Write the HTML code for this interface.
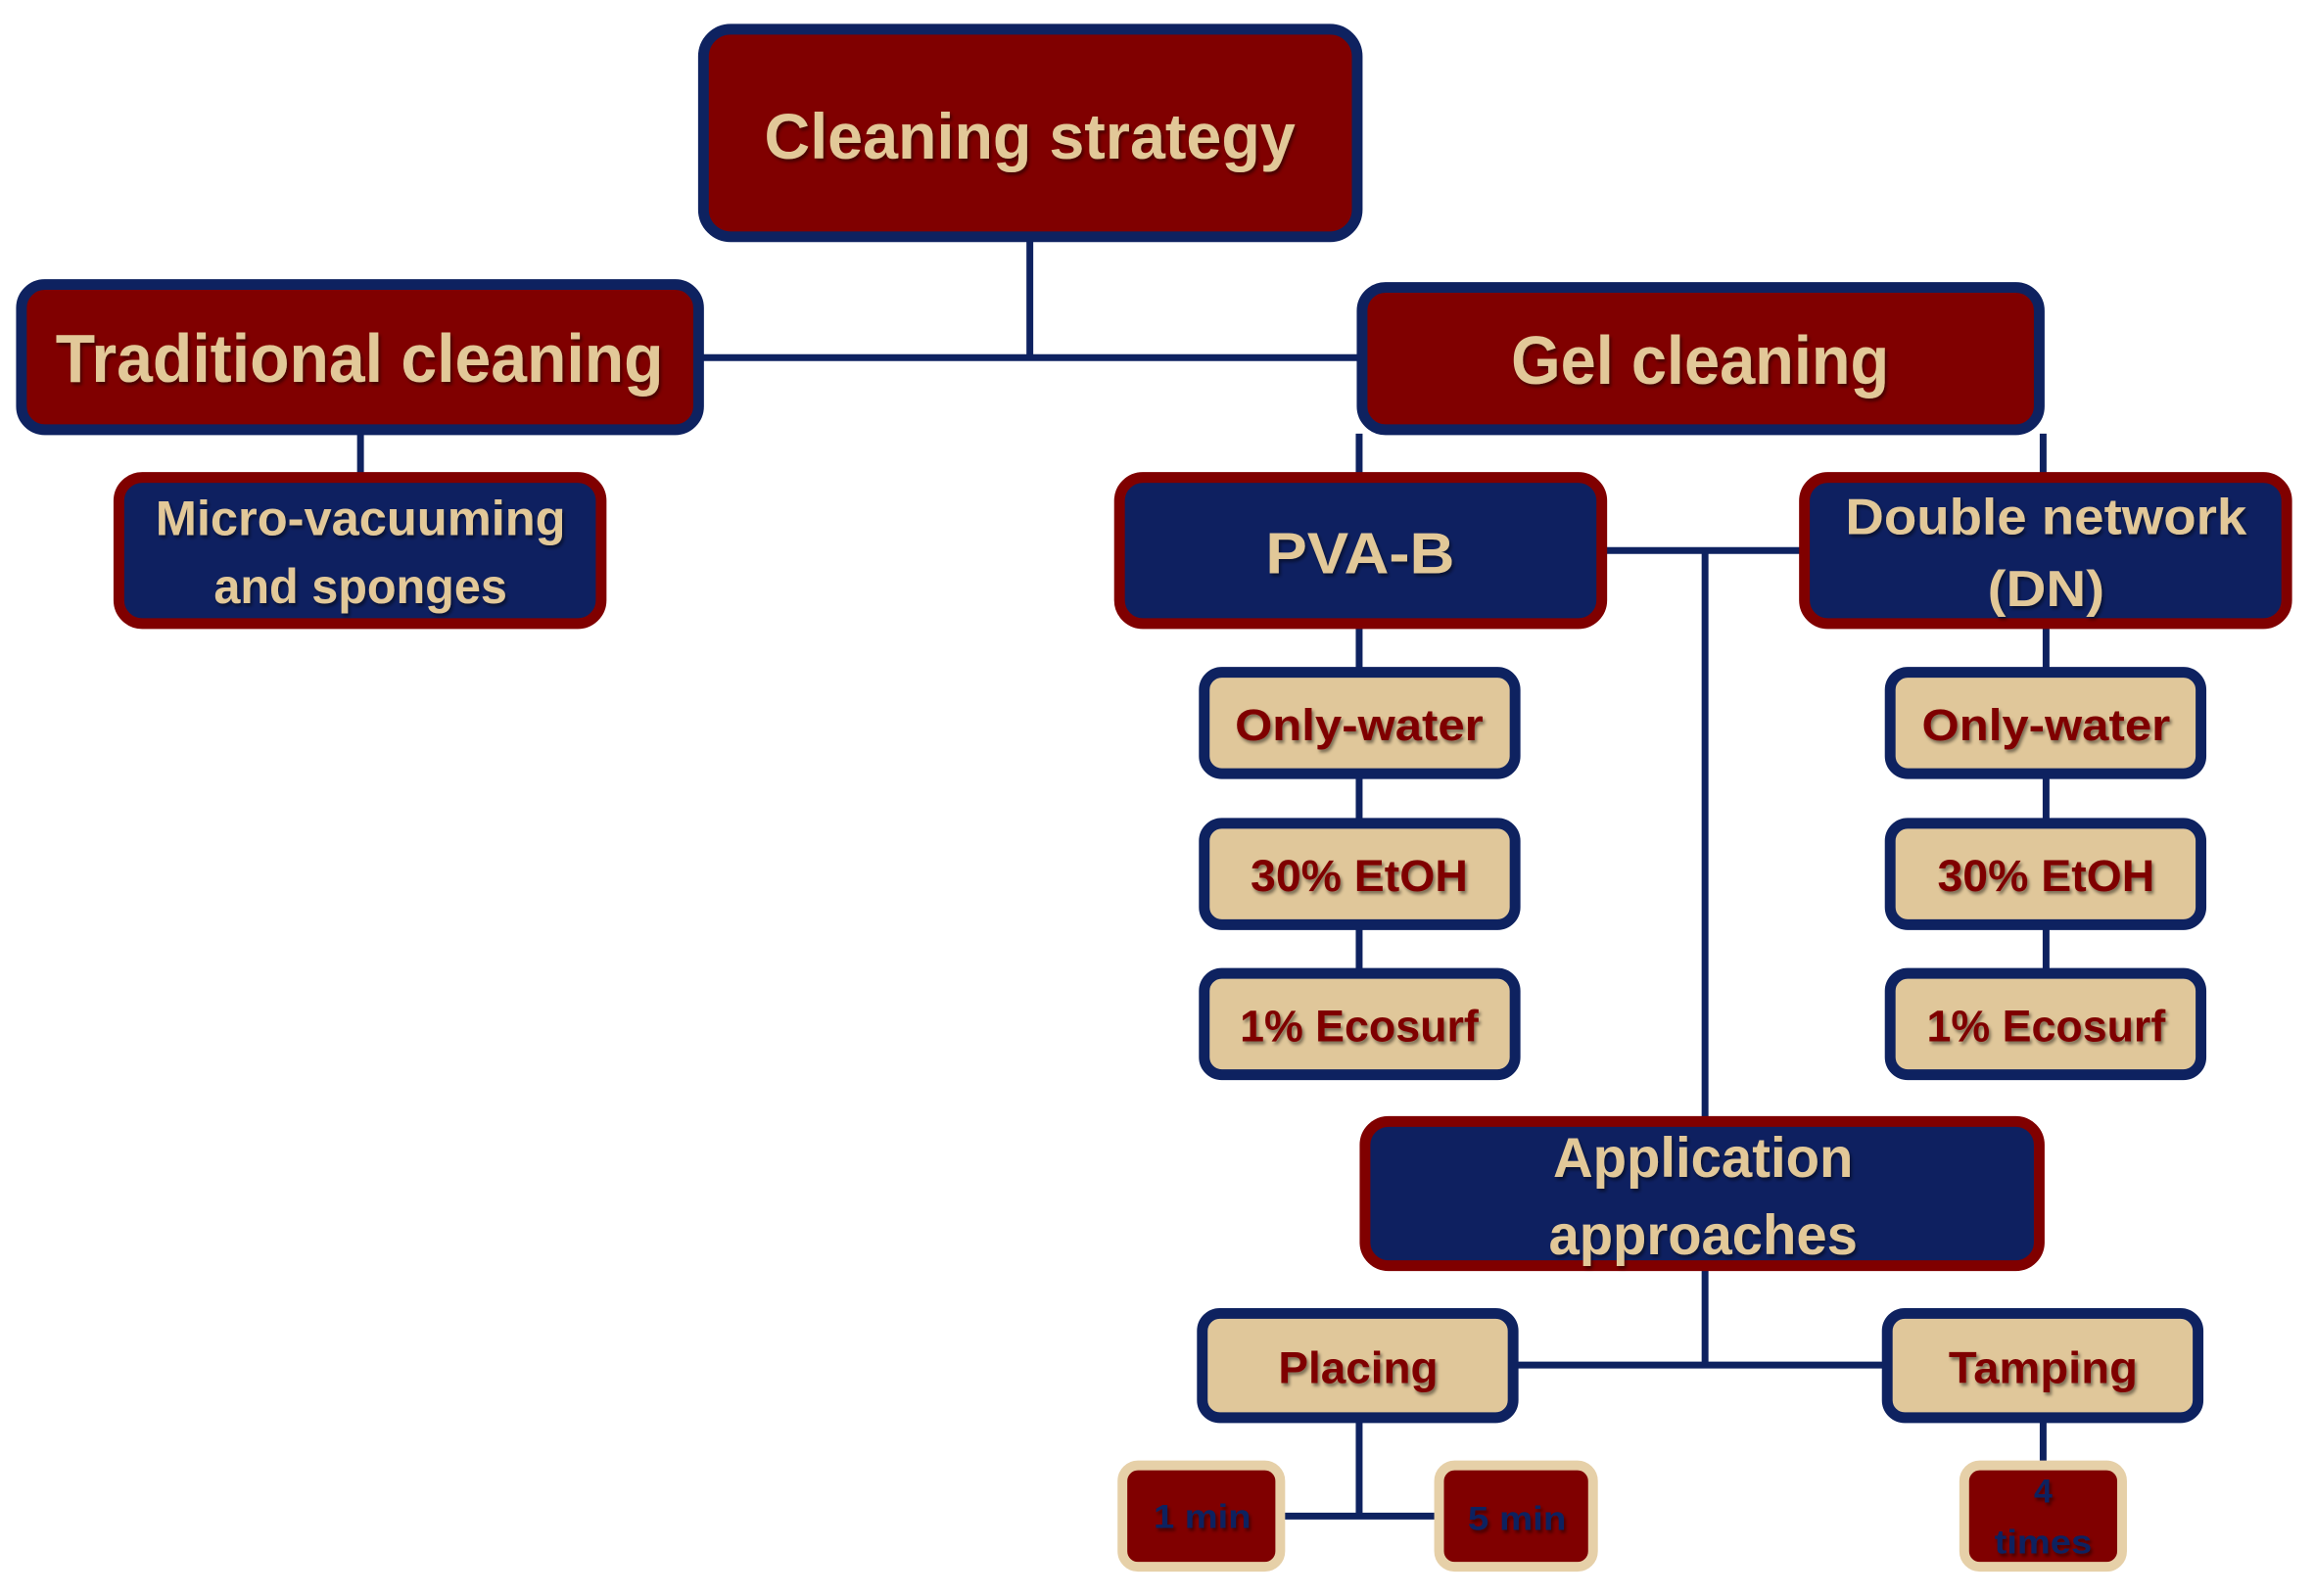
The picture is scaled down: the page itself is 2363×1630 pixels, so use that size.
<!DOCTYPE html>
<html><head><meta charset="utf-8"><style>
html,body{margin:0;padding:0;background:#fff;}
svg{display:block;}
text{font-family:"Liberation Sans",sans-serif;font-weight:bold;dominant-baseline:central;text-anchor:middle;}
.t{fill:#E2C898;}
.m{fill:#7F0000;}
.n{fill:#0E2260;}
</style></head><body>
<svg width="2363" height="1630" viewBox="0 0 2375 1638" preserveAspectRatio="none" xmlns="http://www.w3.org/2000/svg">
<defs><filter id="sh" x="-5%" y="-5%" width="110%" height="120%"><feDropShadow dx="2" dy="3" stdDeviation="1.5" flood-color="#000" flood-opacity="0.45"/></filter></defs>
<g stroke="#0E2260" stroke-width="7" fill="none">
<path d="M1057 247V367M721 367H1394"/>
<path d="M370 445V486"/>
<path d="M1395 445V486M2097 445V486"/>
<path d="M1648 565H1848M1750 565V1147"/>
<path d="M1395 644V686M1395 798V841M1395 953V995"/>
<path d="M2100 644V686M2100 798V841M2100 953V995"/>
<path d="M1750 1303V1401M1557 1401H1933"/>
<path d="M1395 1459V1556M1318 1556H1473"/>
<path d="M2097 1459V1500"/>
</g>
<g stroke-width="11">
<rect x="722" y="30" width="671" height="213" rx="28" fill="#800000" stroke="#0E2260"/>
<rect x="22" y="292" width="695" height="149" rx="24" fill="#800000" stroke="#0E2260"/>
<rect x="1398" y="295" width="695" height="146" rx="24" fill="#800000" stroke="#0E2260"/>
<rect x="122" y="490" width="495" height="150" rx="24" fill="#0E2060" stroke="#800000"/>
<rect x="1149" y="490" width="495" height="150" rx="24" fill="#0E2060" stroke="#800000"/>
<rect x="1852" y="490" width="495" height="150" rx="24" fill="#0E2060" stroke="#800000"/>
<rect x="1401" y="1151" width="692" height="148" rx="24" fill="#0E2060" stroke="#800000"/>
<g fill="#E0C79A" stroke="#0E2260">
<rect x="1236" y="690" width="319" height="104" rx="18"/>
<rect x="1236" y="845" width="319" height="104" rx="18"/>
<rect x="1236" y="999" width="319" height="104" rx="18"/>
<rect x="1940" y="690" width="319" height="104" rx="18"/>
<rect x="1940" y="845" width="319" height="104" rx="18"/>
<rect x="1940" y="999" width="319" height="104" rx="18"/>
<rect x="1234" y="1348" width="319" height="107" rx="18"/>
<rect x="1937" y="1348" width="319" height="107" rx="18"/>
</g>
<g fill="#800000" stroke="#E6D0A8" stroke-width="10">
<rect x="1152" y="1504" width="162" height="104" rx="16"/>
<rect x="1477" y="1504" width="158" height="104" rx="16"/>
<rect x="2016" y="1504" width="162" height="104" rx="16"/>
</g>
</g>
<g filter="url(#sh)">
<text class="t" x="1057" y="140" font-size="66" textLength="545" lengthAdjust="spacingAndGlyphs">Cleaning strategy</text>
<text class="t" x="369" y="368" font-size="70" textLength="624" lengthAdjust="spacingAndGlyphs">Traditional cleaning</text>
<text class="t" x="1745" y="370" font-size="70" textLength="388" lengthAdjust="spacingAndGlyphs">Gel cleaning</text>
<text class="t" x="370" y="532" font-size="50" textLength="421" lengthAdjust="spacingAndGlyphs">Micro-vacuuming</text>
<text class="t" x="370" y="602" font-size="50" textLength="301" lengthAdjust="spacingAndGlyphs">and sponges</text>
<text class="t" x="1396" y="568" font-size="60" textLength="194" lengthAdjust="spacingAndGlyphs">PVA-B</text>
<text class="t" x="2100" y="530" font-size="52" textLength="412" lengthAdjust="spacingAndGlyphs">Double network</text>
<text class="t" x="2100" y="604" font-size="52" textLength="120" lengthAdjust="spacingAndGlyphs">(DN)</text>
<text class="t" x="1748" y="1189" font-size="58" textLength="308" lengthAdjust="spacingAndGlyphs">Application</text>
<text class="t" x="1748" y="1268" font-size="58" textLength="317" lengthAdjust="spacingAndGlyphs">approaches</text>
<text class="m" x="1395" y="744" font-size="46" textLength="255" lengthAdjust="spacingAndGlyphs">Only-water</text>
<text class="m" x="1395" y="899" font-size="46" textLength="223" lengthAdjust="spacingAndGlyphs">30% EtOH</text>
<text class="m" x="1395" y="1053" font-size="46" textLength="245" lengthAdjust="spacingAndGlyphs">1% Ecosurf</text>
<text class="m" x="2100" y="744" font-size="46" textLength="255" lengthAdjust="spacingAndGlyphs">Only-water</text>
<text class="m" x="2100" y="899" font-size="46" textLength="223" lengthAdjust="spacingAndGlyphs">30% EtOH</text>
<text class="m" x="2100" y="1053" font-size="46" textLength="245" lengthAdjust="spacingAndGlyphs">1% Ecosurf</text>
<text class="m" x="1394" y="1404" font-size="46" textLength="164" lengthAdjust="spacingAndGlyphs">Placing</text>
<text class="m" x="2097" y="1404" font-size="46" textLength="194" lengthAdjust="spacingAndGlyphs">Tamping</text>
<text class="n" x="1234" y="1557" font-size="34" textLength="100" lengthAdjust="spacingAndGlyphs">1 min</text>
<text class="n" x="1557" y="1559" font-size="34" textLength="101" lengthAdjust="spacingAndGlyphs">5 min</text>
<text class="n" x="2097" y="1531" font-size="34">4</text>
<text class="n" x="2097" y="1583" font-size="34" textLength="100" lengthAdjust="spacingAndGlyphs">times</text>
</g>
</svg>
</body></html>
